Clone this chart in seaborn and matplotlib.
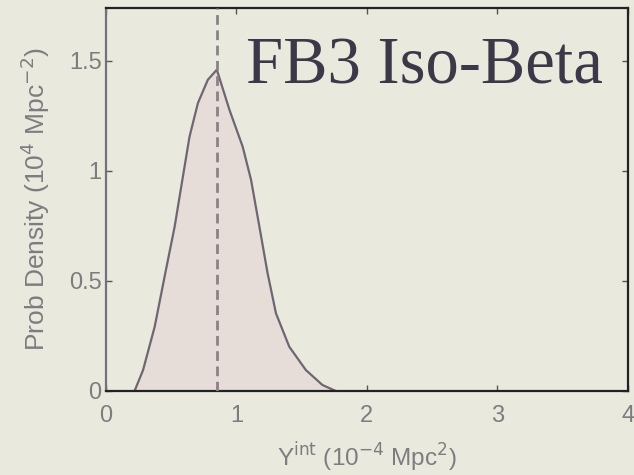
import matplotlib
matplotlib.use("Agg")
import matplotlib.pyplot as plt
import seaborn as sns
import pandas as pd

# Posterior density of the integrated Compton parameter
y_int = [0.22, 0.285, 0.374, 0.450, 0.527, 0.590, 0.641, 0.705, 0.781, 0.85,
         0.947, 1.048, 1.112, 1.176, 1.239, 1.303, 1.405, 1.532, 1.659, 1.76]
prob_density = [0.0, 0.095, 0.292, 0.52, 0.747, 0.974, 1.156, 1.308, 1.414, 1.46,
                1.277, 1.11, 0.96, 0.747, 0.535, 0.353, 0.201, 0.095, 0.027, 0.0]
y_peak = 0.85

x_ticks = [0, 1, 2, 3, 4]
y_ticks = [0, 0.5, 1, 1.5]
y_tick_labels = ["0", "0.5", "1", "1.5"]
title_text = "FB3 Iso-Beta"

df = pd.DataFrame({"y_int": y_int, "density": prob_density})

sns.set_theme(style="white")
plt.rcParams["font.family"] = ["Liberation Sans", "DejaVu Sans"]

bg = "#e9e9de"
line_col = "#6e6672"
fill_col = "#e7ddd8"
text_col = "#7d7d80"

fig = plt.figure(figsize=(6.34, 4.75), dpi=100, facecolor=bg)
ax = fig.add_axes([0.167, 0.177, 0.8235, 0.806])
ax.set_facecolor(bg)

ax.fill_between(df["y_int"], df["density"], color=fill_col, lw=0, zorder=1)
sns.lineplot(data=df, x="y_int", y="density", ax=ax, color=line_col,
             lw=1.6, sort=False, zorder=2)
ax.axvline(y_peak, color="#8a8288", lw=2.0, ls=(0, (3.5, 2)), zorder=3)

ax.set_xlim(0, 4)
ax.set_ylim(0, 1.74)
ax.set_xticks(x_ticks)
ax.set_xticklabels([str(t) for t in x_ticks])
ax.set_yticks(y_ticks)
ax.set_yticklabels(y_tick_labels)

ax.tick_params(direction="in", length=4, width=1, colors="#555", labelcolor=text_col,
               labelsize=17, top=True, right=True, bottom=True, left=True)
ax.tick_params(axis="x", pad=10)
ax.tick_params(axis="y", pad=3)

for side in ["top", "bottom", "right"]:
    ax.spines[side].set_color("#222")
    ax.spines[side].set_linewidth(1.6)
ax.spines["left"].set_color("#77707e")
ax.spines["left"].set_linewidth(1.6)

ax.set_xlabel(r"Y$^{\rm int}$ (10$^{-4}$ Mpc$^2$)", fontsize=17.5, color=text_col, labelpad=10)
ax.set_ylabel(r"Prob Density (10$^4$ Mpc$^{-2}$)", fontsize=19, color=text_col, labelpad=12)

ax.text(0.61, 0.804, title_text, transform=ax.transAxes, ha="center", va="baseline",
        fontsize=48, color="#3c3848", family=["Liberation Serif", "DejaVu Serif"])

fig.savefig("out.png", dpi=100, facecolor=bg)
